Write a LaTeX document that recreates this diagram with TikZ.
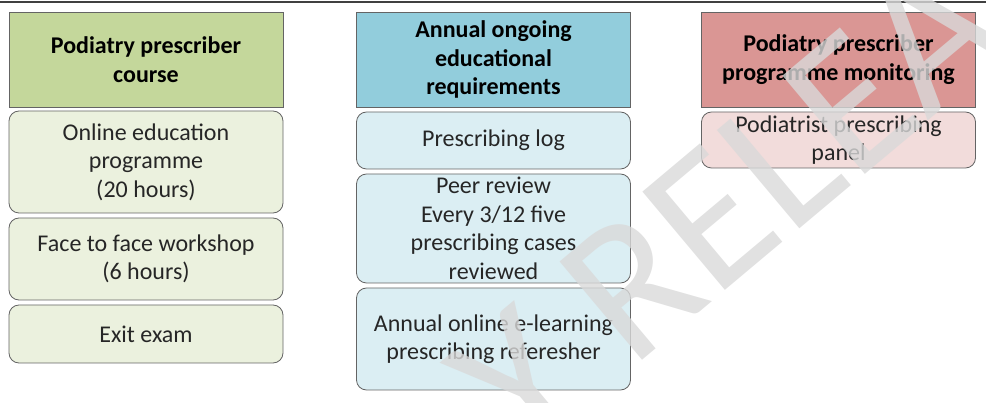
\documentclass[tikz,border=0pt]{standalone}
\usepackage{fontspec}
\setmainfont{Carlito}
\usepackage{tikz}

\definecolor{hdgreen}{RGB}{196,215,155}
\definecolor{itgreen}{RGB}{235,241,222}
\definecolor{hdblue}{RGB}{146,205,220}
\definecolor{itblue}{RGB}{219,238,243}
\definecolor{hdred}{RGB}{218,150,148}
\definecolor{itred}{RGB}{242,220,219}
\definecolor{rimgray}{RGB}{100,100,100}
\definecolor{wmgray}{RGB}{217,217,217}

\begin{document}
\begin{tikzpicture}[x=1pt,y=-1pt,
    hdr/.style={draw=rimgray,line width=0.8pt,minimum width=274pt,inner sep=0pt,
        align=center,font=\fontsize{24}{28.5}\selectfont\bfseries},
    itm/.style={draw=rimgray,line width=0.8pt,rounded corners=10pt,minimum width=274pt,
        inner sep=0pt,align=center,text=black!85,font=\fontsize{24}{28.5}\selectfont}]
       \useasboundingbox(0,0)rectangle(986,403);%frame
       \draw[line width=1.2pt,black!75](0,2)--(986,2);%top rule

       \node[hdr,fill=hdgreen,minimum height=95pt](hA)at(146,59.5){Podiatry prescriber\\course};%course
       \node[itm,fill=itgreen,minimum height=102pt](a1)at(146,162){Online education\\programme\\(20 hours)};
       \node[itm,fill=itgreen,minimum height=82pt](a2)at(146,259){Face to face workshop\\(6 hours)};
       \node[itm,fill=itgreen,minimum height=58pt](a3)at(146,334){Exit exam};

       \node[hdr,fill=hdblue,minimum height=95pt](hB)at(493.5,59.5){Annual ongoing\\educational\\requirements};%annual
       \node[itm,fill=itblue,minimum height=57pt](b1)at(493.5,140.5){Prescribing log};
       \node[itm,fill=itblue,minimum height=109pt](b2)at(493.5,228.5){Peer review\\Every 3/12 five\\prescribing cases\\reviewed};
       \node[itm,fill=itblue,minimum height=102pt](b3)at(493.5,339){Annual online e-learning\\prescribing referesher};

       \node[hdr,fill=hdred,minimum height=95pt](hC)at(838.5,59.5){Podiatry prescriber\\programme monitoring};%monitoring
       \node[itm,fill=itred,minimum height=56pt](c1)at(838.5,140){Podiatrist prescribing\\panel};

       \begin{scope}
           \clip(0,0)rectangle(986,403);
           \node[rotate=40,text=wmgray,text opacity=0.8,
               font=\fontsize{200}{200}\selectfont](wm)at(728,205){Y RELEA};%watermark
       \end{scope}
\end{tikzpicture}
\end{document}
